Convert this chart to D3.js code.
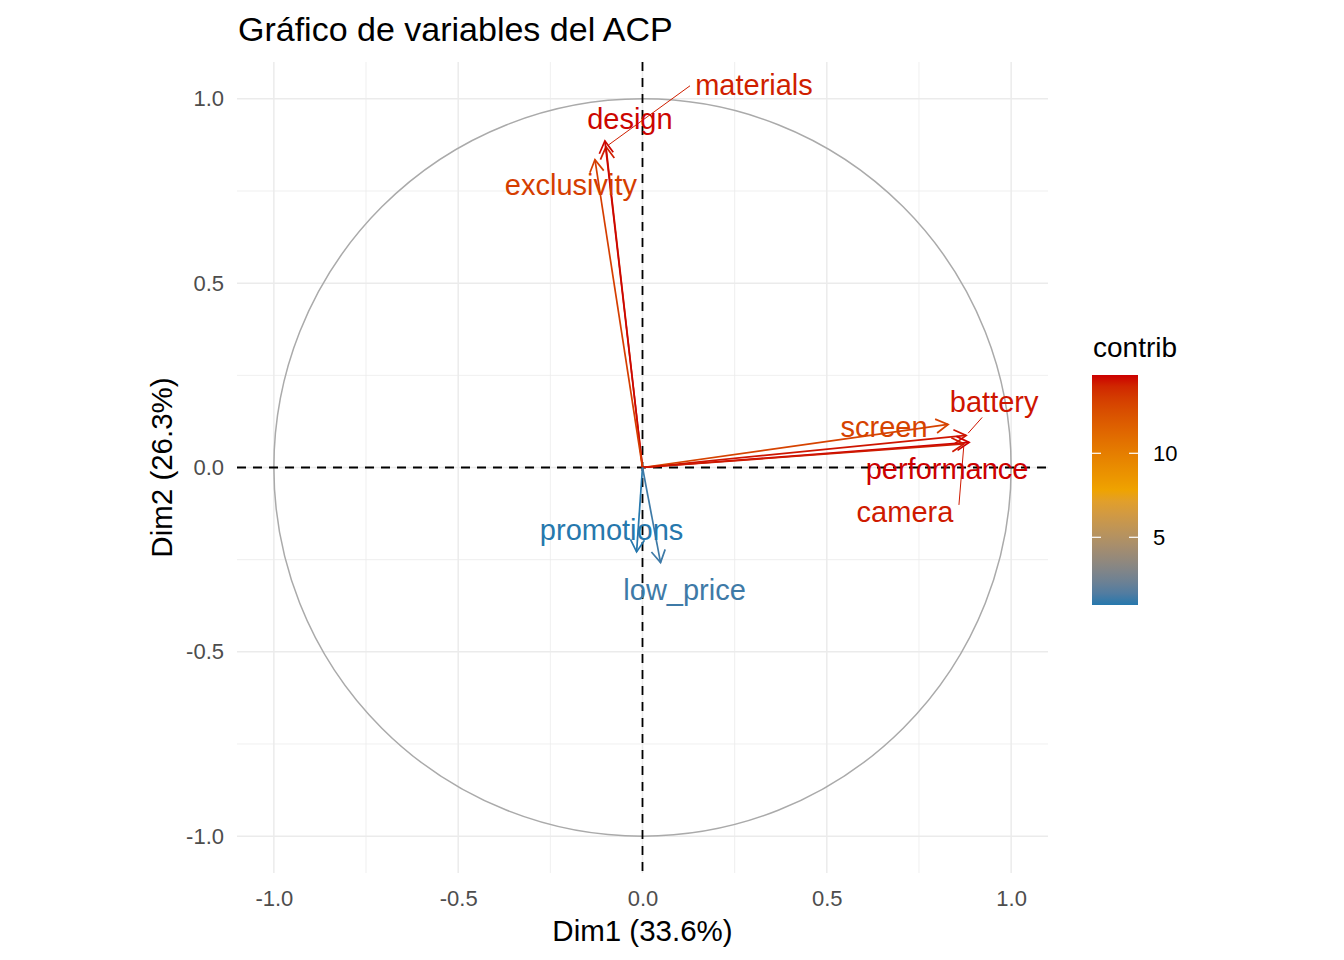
<!DOCTYPE html>
<html lang="es">
<head>
<meta charset="UTF-8">
<title>Gráfico de variables del ACP</title>
<script src="https://d3js.org/d3.v7.min.js"></script>
<style>
  body { margin: 0; background: #fff; }
  svg { display: block; font-family: "Liberation Sans", Arial, sans-serif; }
</style>
</head>
<body>
<div id="chart"></div>
<script>
// Variables and their coordinates on Dim1 / Dim2, with contribution
const variables = ["materials", "design", "exclusivity", "battery", "screen", "performance", "camera", "promotions", "low_price"];
const dim1 = [-0.099, -0.102, -0.129, 0.878, 0.829, 0.886, 0.872, -0.016, 0.049];
const dim2 = [0.870, 0.886, 0.835, 0.087, 0.117, 0.068, 0.064, -0.229, -0.258];
const contrib = [14.2, 14.6, 13.2, 14.4, 13.0, 14.66, 14.3, 0.97, 1.28];

const axisTicks = [-1, -0.5, 0, 0.5, 1];
const axisTickLabels = ["-1.0", "-0.5", "0.0", "0.5", "1.0"];
const minorTicks = [-0.75, -0.25, 0.25, 0.75];
const legendTicks = [5, 10];
const gradientCols = ["#2678AD", "#EFA300", "#CC0000"];

// label placement (pixel offset from arrow tip); leader segment start relative to label centre
const labelOffset = [[148, -62], [25, -22], [-24, 25], [28, -33], [-64, 3], [-22, 27], [-59, 68], [-25, -22], [24, 27]];
const segmentStart = [[-64, 1], null, null, [-12, 15], null, null, [54, -7], null, null];

const W = 1344, H = 960;
const panel = { left: 237, right: 1048, top: 62, bottom: 873 };

const svg = d3.select("#chart").append("svg")
  .attr("width", W).attr("height", H);

const x = d3.scaleLinear().domain([-1.1, 1.1]).range([panel.left, panel.right]);
const y = d3.scaleLinear().domain([-1.1, 1.1]).range([panel.bottom, panel.top]);

const cext = d3.extent(contrib);
const color = d3.scaleLinear()
  .domain([cext[0], (cext[0] + cext[1]) / 2, cext[1]])
  .range(gradientCols)
  .interpolate(d3.interpolateLab);

// grid
const grid = svg.append("g");
minorTicks.forEach(t => {
  grid.append("line").attr("x1", x(t)).attr("x2", x(t)).attr("y1", panel.top).attr("y2", panel.bottom)
    .attr("stroke", "#ebebeb").attr("stroke-width", 0.8);
  grid.append("line").attr("y1", y(t)).attr("y2", y(t)).attr("x1", panel.left).attr("x2", panel.right)
    .attr("stroke", "#ebebeb").attr("stroke-width", 0.8);
});
axisTicks.forEach(t => {
  grid.append("line").attr("x1", x(t)).attr("x2", x(t)).attr("y1", panel.top).attr("y2", panel.bottom)
    .attr("stroke", "#ebebeb").attr("stroke-width", 1.5);
  grid.append("line").attr("y1", y(t)).attr("y2", y(t)).attr("x1", panel.left).attr("x2", panel.right)
    .attr("stroke", "#ebebeb").attr("stroke-width", 1.5);
});

// axes
const xAxis = svg.append("g")
  .attr("transform", `translate(0,${panel.bottom})`)
  .call(d3.axisBottom(x).tickValues(axisTicks).tickSize(0).tickPadding(17)
    .tickFormat((d, i) => axisTickLabels[i]));
const yAxis = svg.append("g")
  .attr("transform", `translate(${panel.left},0)`)
  .call(d3.axisLeft(y).tickValues(axisTicks).tickSize(0).tickPadding(13)
    .tickFormat((d, i) => axisTickLabels[i]));
[xAxis, yAxis].forEach(a => {
  a.select(".domain").remove();
  a.selectAll("text").attr("fill", "#4d4d4d").style("font-size", "22px")
    .style("font-family", "'Liberation Sans', Arial, sans-serif");
});

// correlation circle
svg.append("circle")
  .attr("cx", x(0)).attr("cy", y(0))
  .attr("r", x(1) - x(0))
  .attr("fill", "none").attr("stroke", "#aaaaaa").attr("stroke-width", 1.5);

// reference lines
svg.append("line").attr("x1", x(0)).attr("x2", x(0)).attr("y1", panel.top).attr("y2", panel.bottom)
  .attr("stroke", "#000").attr("stroke-width", 1.8).attr("stroke-dasharray", "9,7");
svg.append("line").attr("y1", y(0)).attr("y2", y(0)).attr("x1", panel.left).attr("x2", panel.right)
  .attr("stroke", "#000").attr("stroke-width", 1.8).attr("stroke-dasharray", "9,7");

// arrows
const headLen = 14, headAng = Math.PI / 6;
const arrows = svg.append("g");
variables.forEach((v, i) => {
  const x0 = x(0), y0 = y(0), x1 = x(dim1[i]), y1 = y(dim2[i]);
  const col = color(contrib[i]);
  const ang = Math.atan2(y1 - y0, x1 - x0);
  arrows.append("line")
    .attr("x1", x0).attr("y1", y0).attr("x2", x1).attr("y2", y1)
    .attr("stroke", col).attr("stroke-width", 1.7);
  const p1 = [x1 - headLen * Math.cos(ang - headAng), y1 - headLen * Math.sin(ang - headAng)];
  const p2 = [x1 - headLen * Math.cos(ang + headAng), y1 - headLen * Math.sin(ang + headAng)];
  arrows.append("path")
    .attr("d", `M${p1[0]},${p1[1]}L${x1},${y1}L${p2[0]},${p2[1]}`)
    .attr("fill", "none").attr("stroke", col).attr("stroke-width", 1.7);
});

// labels with leader segments
const labels = svg.append("g");
variables.forEach((v, i) => {
  const px = x(dim1[i]), py = y(dim2[i]);
  const lx = px + labelOffset[i][0], ly = py + labelOffset[i][1];
  const col = color(contrib[i]);
  if (segmentStart[i]) {
    const sx = lx + segmentStart[i][0], sy = ly + segmentStart[i][1];
    const len = Math.hypot(px - sx, py - sy);
    const ex = px - (px - sx) / len * 3, ey = py - (py - sy) / len * 3;
    labels.append("line")
      .attr("x1", sx).attr("y1", sy).attr("x2", ex).attr("y2", ey)
      .attr("stroke", col).attr("stroke-width", 1);
  }
  labels.append("text")
    .attr("x", lx).attr("y", ly + 10)
    .attr("text-anchor", "middle")
    .attr("fill", col)
    .style("font-size", "29px")
    .text(v);
});

// title and axis titles
svg.append("text").attr("x", 238).attr("y", 41)
  .style("font-size", "34px").attr("fill", "#000")
  .text("Gráfico de variables del ACP");
svg.append("text").attr("x", x(0)).attr("y", 941)
  .attr("text-anchor", "middle").style("font-size", "29.5px")
  .text("Dim1 (33.6%)");
svg.append("text")
  .attr("transform", `translate(172,${y(0)}) rotate(-90)`)
  .attr("text-anchor", "middle").style("font-size", "29.5px")
  .text("Dim2 (26.3%)");

// colour bar legend
const bar = { x: 1092, w: 46, top: 375, bottom: 605 };
const cb = d3.scaleLinear().domain(cext).range([bar.bottom, bar.top]);
const defs = svg.append("defs");
const grad = defs.append("linearGradient").attr("id", "cbar")
  .attr("x1", 0).attr("y1", 1).attr("x2", 0).attr("y2", 0);
d3.range(0, 1.0001, 0.05).forEach(f => {
  grad.append("stop").attr("offset", f)
    .attr("stop-color", color(cext[0] + f * (cext[1] - cext[0])));
});
svg.append("text").attr("x", 1093).attr("y", 357)
  .style("font-size", "28px").text("contrib");
svg.append("rect")
  .attr("x", bar.x).attr("y", bar.top).attr("width", bar.w).attr("height", bar.bottom - bar.top)
  .attr("fill", "url(#cbar)");
legendTicks.forEach(t => {
  svg.append("line").attr("x1", bar.x).attr("x2", bar.x + 9).attr("y1", cb(t)).attr("y2", cb(t))
    .attr("stroke", "#fff").attr("stroke-width", 1.2);
  svg.append("line").attr("x1", bar.x + bar.w - 9).attr("x2", bar.x + bar.w).attr("y1", cb(t)).attr("y2", cb(t))
    .attr("stroke", "#fff").attr("stroke-width", 1.2);
  svg.append("text").attr("x", 1153).attr("y", cb(t) + 8)
    .style("font-size", "22px").attr("fill", "#000").text(t);
});
</script>
</body>
</html>
